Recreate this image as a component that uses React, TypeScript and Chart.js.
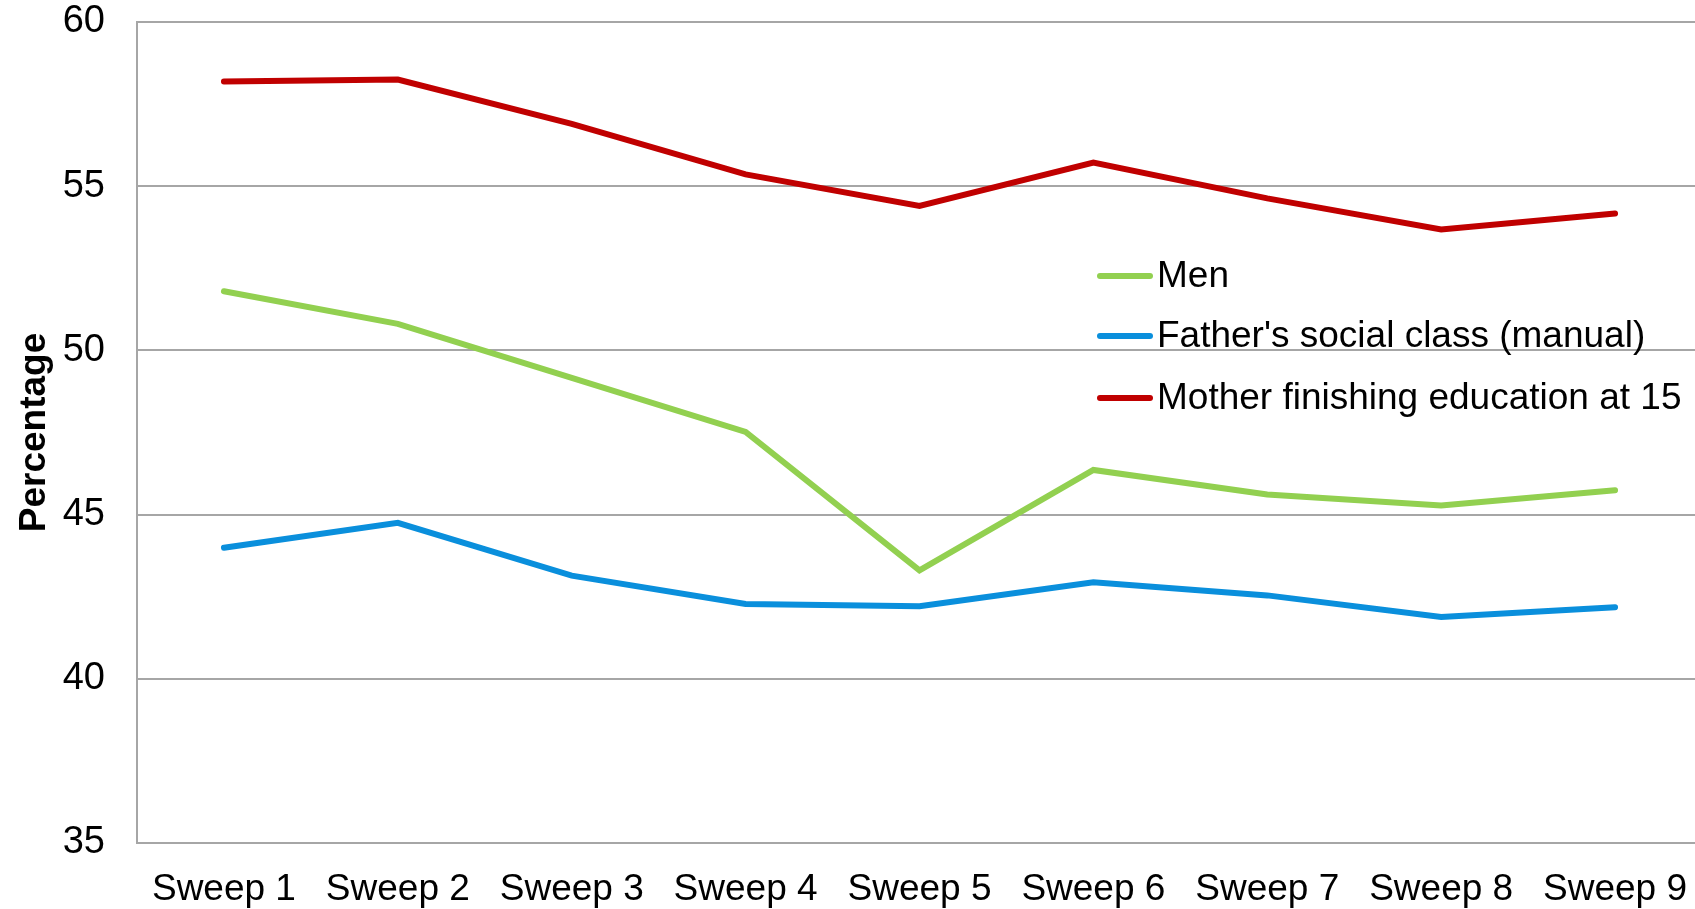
import React, { useEffect, useRef } from "react";
import { Chart, registerables } from "chart.js";

Chart.register(...registerables);

const categories = ["Sweep 1", "Sweep 2", "Sweep 3", "Sweep 4", "Sweep 5", "Sweep 6", "Sweep 7", "Sweep 8", "Sweep 9"];
const men = [51.8, 50.81, 49.16, 47.52, 43.3, 46.36, 45.61, 45.28, 45.74];
const fatherManual = [43.99, 44.75, 43.14, 42.28, 42.21, 42.94, 42.54, 41.88, 42.18];
const motherEdu15 = [58.19, 58.25, 56.9, 55.36, 54.4, 55.72, 54.63, 53.68, 54.17];
const seriesLabels = ["Men", "Father's social class (manual)", "Mother finishing education at 15"];
const seriesColors = ["#92D050", "#0A8FDC", "#C00000"];
const yMin = 35;
const yMax = 60;
const yStep = 5;

const FONT = "'Liberation Sans', Arial, sans-serif";

const insideLegend = {
  id: "insideLegend",
  afterDraw(chart: any) {
    const ctx = chart.ctx;
    const x0 = 1097;
    const lineLen = 56;
    const textX = 1157;
    const rows = [276, 336, 398];
    ctx.save();
    chart.data.datasets.forEach((ds: any, i: number) => {
      const y = rows[i];
      ctx.strokeStyle = ds.borderColor;
      ctx.lineWidth = 6;
      ctx.lineCap = "round";
      ctx.beginPath();
      ctx.moveTo(x0 + 3, y);
      ctx.lineTo(x0 + lineLen - 3, y);
      ctx.stroke();
      ctx.fillStyle = "#000";
      ctx.font = `37px ${FONT}`;
      ctx.textBaseline = "middle";
      ctx.textAlign = "left";
      ctx.fillText(ds.label, textX, y + 1);
    });
    ctx.restore();
  },
};

export default function App() {
  const ref = useRef<HTMLCanvasElement>(null);
  useEffect(() => {
    if (!ref.current) return;
    const chart = new Chart(ref.current, {
      type: "line",
      data: {
        labels: categories,
        datasets: [men, fatherManual, motherEdu15].map((d, i) => ({
          label: seriesLabels[i],
          data: d,
          borderColor: seriesColors[i],
          backgroundColor: seriesColors[i],
          borderWidth: 6,
          pointRadius: 0,
          tension: 0,
          borderCapStyle: "round",
          borderJoinStyle: "miter",
        })),
      },
      options: {
        responsive: false,
        animation: false,
        devicePixelRatio: 1,
        layout: { padding: 0 },
        plugins: { legend: { display: false }, tooltip: { enabled: false } },
        scales: {
          x: {
            offset: true,
            grid: { display: false, drawTicks: false, offset: true },
            border: { display: true, color: "#A6A6A6", width: 2 },
            ticks: { color: "#000", font: { family: FONT, size: 37 }, padding: 25, maxRotation: 0, autoSkip: false },
            afterFit: (s: any) => { s.height = 66; s.paddingLeft = 0; s.paddingRight = 0; },
          },
          y: {
            min: yMin,
            max: yMax,
            grid: { color: "#A6A6A6", lineWidth: 2, drawTicks: false },
            border: { display: true, color: "#A6A6A6", width: 2 },
            ticks: { stepSize: yStep, color: "#000", font: { family: FONT, size: 38 }, padding: 32 },
            title: {
              display: true,
              text: "Percentage",
              color: "#000",
              font: { family: FONT, size: 37, weight: "bold" },
              padding: { top: 13, bottom: 0 },
            },
            afterFit: (s: any) => { s.width = 137; s.paddingTop = 22; s.paddingBottom = 0; },
          },
        },
      },
      plugins: [insideLegend],
    });
    return () => chart.destroy();
  }, []);
  return (
    <div style={{ position: "absolute", left: 0, top: 0, width: 1695, height: 909, overflow: "hidden", background: "#fff" }}>
      <canvas ref={ref} width={1702} height={909} style={{ width: 1702, height: 909, display: "block" }} />
    </div>
  );
}
